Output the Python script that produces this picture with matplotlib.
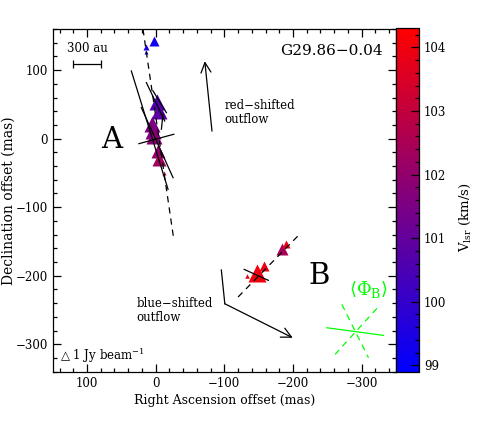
import numpy as np
import matplotlib
matplotlib.use("Agg")
import matplotlib.pyplot as plt
from matplotlib.colors import LinearSegmentedColormap, Normalize
from matplotlib.ticker import MultipleLocator

plt.rcParams['font.family'] = ['DejaVu Serif', 'DejaVu Sans']
plt.rcParams['mathtext.fontset'] = 'dejavuserif'

# maser spots: RA offset, Dec offset (mas), Vlsr (km/s), peak flux (Jy/beam)
ra_off = [2.9, 13.6, 14.6, -1.9, -4.4, 5.4, 3.9, 2.5, -3.4, -4.4, -11.7,
          -132.4, -147.0, -158.1, -183.5, -189.8]
dec_off = [142.6, 134.3, 126.6, 54.0, 40.4, 21.9, 11.2, 4.0, -18.0, -30.0, -49.6,
           -200.4, -195.6, -185.8, -161.5, -154.2]
vlsr = [99.3, 99.5, 99.5, 100.6, 100.8, 101.5, 101.6, 101.8, 102.0, 102.3, 102.8,
        103.8, 104.0, 103.9, 102.5, 103.8]
flux = [1.0, 0.55, 0.4, 1.5, 1.6, 1.6, 1.6, 1.5, 1.4, 1.4, 0.4,
        0.45, 1.7, 1.0, 1.2, 0.7]

# polarization vectors (start / end in mas)
vec_x0 = [35.5, 13.6, 20.9, 24.4, -10.6, 3.9, -128.9]
vec_y0 = [98.8, 81.8, 45.3, -7.3, 35.6, 69.6, -190.7]
vec_x1 = [-18.0, -13.1, -25.3, -26.3, -8.3, -15.6, -164.0]
vec_y1 = [-73.9, 25.8, -56.9, 6.4, 13.7, 38.0, -206.7]

# best linear fits of the two groups (dashed)
fitA_x = [18.5, -26.3]
fitA_y = [159.7, -146.5]
fitB_x = [-120.0, -210.0]
fitB_y = [-231.0, -139.0]

# error-weighted mean orientation of group B (green)
phiB_x = [-249.2, -331.8]
phiB_y = [-275.9, -287.0]
phiB_err1_x = [-271.1, -309.9]
phiB_err1_y = [-241.8, -319.7]
phiB_err2_x = [-322.2, -261.3]
phiB_err2_y = [-247.6, -314.7]

# outflow directions
red_tail = (-82.0, 11.0)
red_head = (-71.5, 113.0)
blue_path_x = [-95.6, -100.7]
blue_path_y = [-191.6, -240.9]
blue_head = (-199.6, -290.5)

vmin, vmax = 98.9, 104.3
cmap = LinearSegmentedColormap.from_list('br', ['#0000ff', '#ff0000'])
norm = Normalize(vmin, vmax)

fig = plt.figure(figsize=(4.91, 4.24), dpi=100)
ax = fig.add_axes([52.7/491, 1-371.7/424, 343.3/491, 342.7/424])

# spots first, so the vectors show on top of them
for x, y, v, f in zip(ra_off, dec_off, vlsr, flux):
    ax.plot(x, y, marker='^', ms=7.3*f, color=cmap(norm(v)), mec='none', ls='none')

for x0, y0, x1, y1 in zip(vec_x0, vec_y0, vec_x1, vec_y1):
    ax.plot([x0, x1], [y0, y1], color='black', lw=0.9)

ax.plot(fitA_x, fitA_y, color='black', ls=(0, (5, 4)), lw=0.9)
ax.plot(fitB_x, fitB_y, color='black', ls=(0, (5, 4)), lw=0.9)

green = '#00ff00'
ax.plot(phiB_x, phiB_y, color=green, lw=0.9)
ax.plot(phiB_err1_x, phiB_err1_y, color=green, lw=0.9, ls=(0, (5, 4)))
ax.plot(phiB_err2_x, phiB_err2_y, color=green, lw=0.9, ls=(0, (5, 4)))
ax.text(-310, -219.6, r'$\langle\Phi_{\rm B}\rangle$', color=green,
        fontsize=13, ha='center', va='center')

ax.annotate('', xy=red_head, xytext=red_tail,
            arrowprops=dict(arrowstyle='->', color='black', lw=0.9,
                            mutation_scale=18, shrinkA=0, shrinkB=0))
ax.plot(blue_path_x, blue_path_y, color='black', lw=0.9)
ax.annotate('', xy=blue_head, xytext=(blue_path_x[-1], blue_path_y[-1]),
            arrowprops=dict(arrowstyle='->', color='black', lw=0.9,
                            mutation_scale=18, shrinkA=0, shrinkB=0))

ax.text(-100.5, 38, 'red\u2212shifted\noutflow', fontsize=8.5, ha='left',
        va='center', linespacing=1.1)
ax.text(27.7, -250, 'blue\u2212shifted\noutflow', fontsize=8.5, ha='left',
        va='center', linespacing=1.1)

ax.text(64, -2, 'A', fontsize=21, ha='center', va='center')
ax.text(-237.4, -200.4, 'B', fontsize=21, ha='center', va='center')
ax.text(-256, 128, 'G29.86\u22120.04', fontsize=11, ha='center', va='center')

# scale bar
ax.errorbar([99.7], [109.5], xerr=[20.6], color='black', lw=0.9,
            capsize=3, capthick=0.9)
ax.text(99.7, 131, '300 au', fontsize=8.5, ha='center', va='center')

ax.text(139.8, -317, '\u25b3 1 Jy beam$^{-1}$', fontsize=8.5, ha='left',
        va='center')

ax.set_xlim(150, -350)
ax.set_ylim(-340, 160)
ax.xaxis.set_major_locator(MultipleLocator(100))
ax.xaxis.set_minor_locator(MultipleLocator(20))
ax.yaxis.set_major_locator(MultipleLocator(100))
ax.yaxis.set_minor_locator(MultipleLocator(20))
ax.tick_params(which='both', direction='in', top=True, right=True,
               labelsize=8.5, width=0.9)
ax.tick_params(which='major', length=6)
ax.tick_params(which='minor', length=3)
ax.set_xlabel('Right Ascension offset (mas)', fontsize=9, labelpad=3)
ax.set_ylabel('Declination offset (mas)', fontsize=10, labelpad=0)
for s in ax.spines.values():
    s.set_linewidth(0.9)

cax = fig.add_axes([396/491, 1-371.7/424, 23/491, 343.4/424])
sm = plt.cm.ScalarMappable(norm=norm, cmap=cmap)
cb = fig.colorbar(sm, cax=cax)
cb.outline.set_linewidth(0.9)
cb.ax.yaxis.set_major_locator(MultipleLocator(1))
cb.ax.yaxis.set_minor_locator(MultipleLocator(0.2))
cb.ax.tick_params(which='both', direction='in', labelsize=8.5, width=0.9)
cb.ax.tick_params(which='major', length=6)
cb.ax.tick_params(which='minor', length=3)
cb.set_label('V$_{\\rm lsr}$ (km/s)', fontsize=9.5)
cb.ax.yaxis.set_label_coords(2.7, 0.45)

fig.savefig('out.png', dpi=100)
